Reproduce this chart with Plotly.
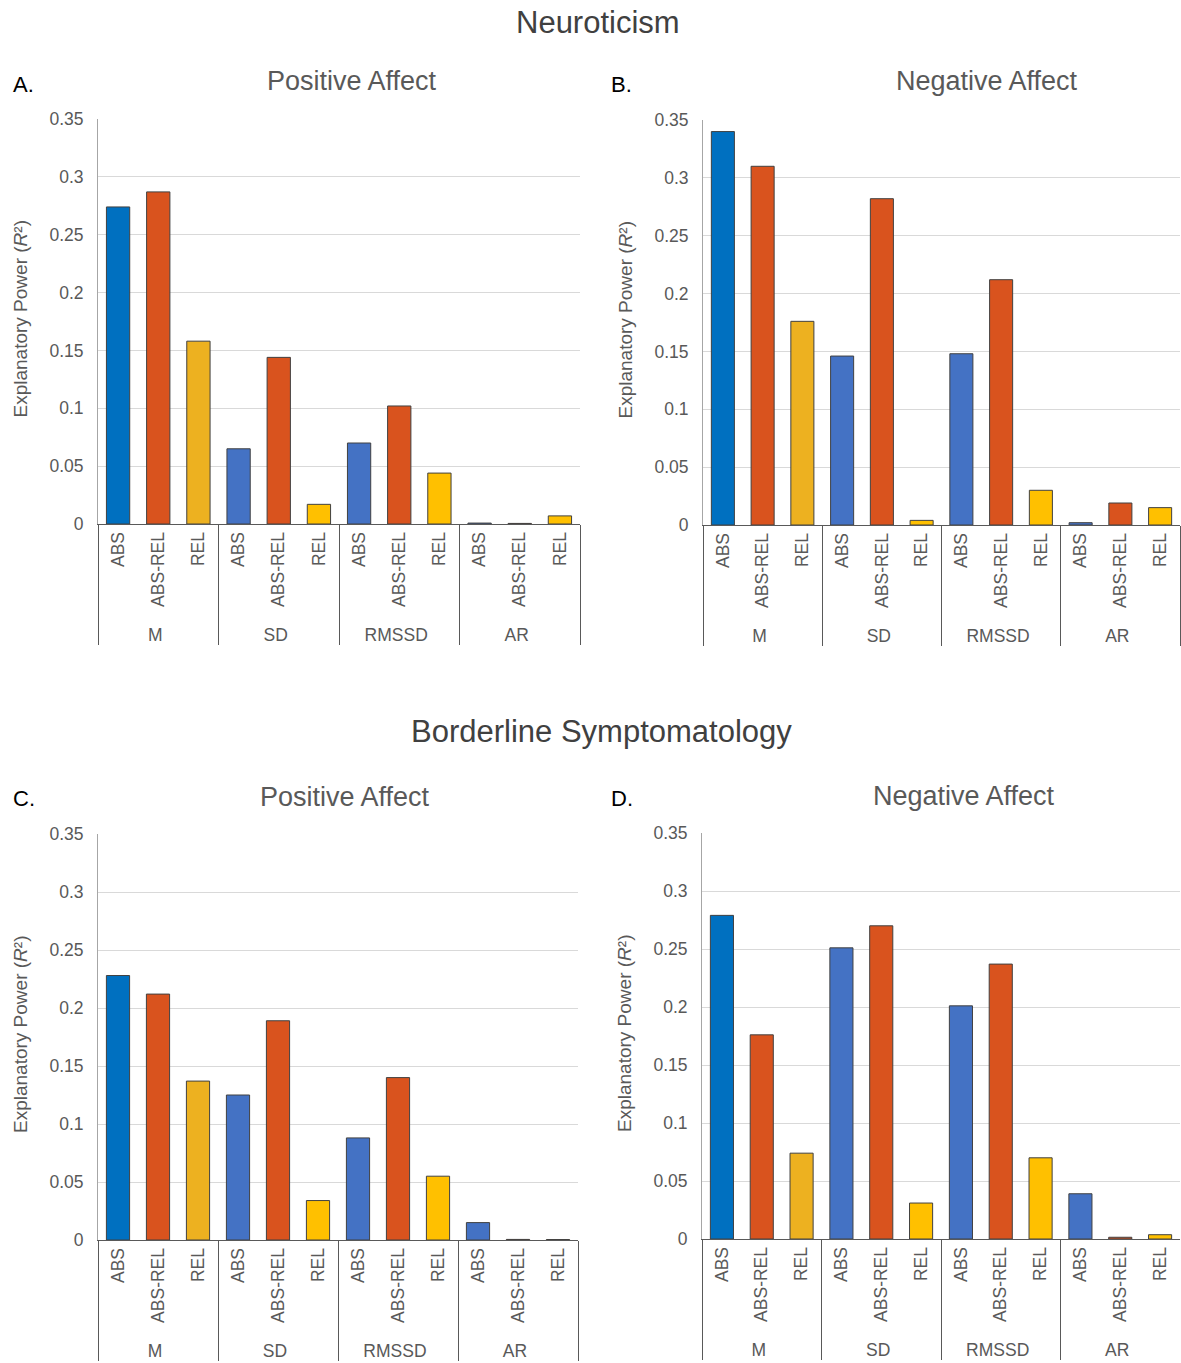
import plotly.graph_objects as go

# Summary statistics (groups) and how each is expressed (measures)
groups = ["M", "SD", "RMSSD", "AR"]
measures = ["ABS", "ABS-REL", "REL"]

# Explanatory power (R²) per statistic/measure, in group-major order
neuroticism_pa = [0.274, 0.287, 0.158, 0.065, 0.144, 0.017, 0.070, 0.102, 0.044, 0.0008, 0.0005, 0.007]
neuroticism_na = [0.340, 0.310, 0.176, 0.146, 0.282, 0.004, 0.148, 0.212, 0.030, 0.002, 0.019, 0.015]
borderline_pa = [0.228, 0.212, 0.137, 0.125, 0.189, 0.034, 0.088, 0.140, 0.055, 0.015, 0.0005, 0.0004]
borderline_na = [0.279, 0.176, 0.074, 0.251, 0.270, 0.031, 0.201, 0.237, 0.070, 0.039, 0.0015, 0.0037]

panel_titles = ["Positive Affect", "Negative Affect", "Positive Affect", "Negative Affect"]
panel_letters = ["A.", "B.", "C.", "D."]

# Fill colours: the mean gets its own palette, the variability statistics share another
mean_colors = {"ABS": "#0070C0", "ABS-REL": "#D9531E", "REL": "#EDB120"}
other_colors = {"ABS": "#4472C4", "ABS-REL": "#D9531E", "REL": "#FFC000"}

W, H = 1181, 1363
FONT = "Liberation Sans, Arial, sans-serif"
GREY = "#595959"

x_outer = [g for g in groups for _ in measures]
x_inner = [m for _ in groups for m in measures]
bar_colors = [(mean_colors if g == "M" else other_colors)[m] for g, m in zip(x_outer, x_inner)]

# Plot-area boxes in pixels: (left, right, top, bottom)
boxes = [
    (98, 580, 119, 524),
    (703, 1180, 120, 525),
    (98, 578, 834, 1240),
    (702, 1180, 833, 1239),
]


def px_x(v):
    return v / W


def px_y(v):
    return 1 - v / H


fig = go.Figure()
series = [neuroticism_pa, neuroticism_na, borderline_pa, borderline_na]
annotations = []

for i, (vals, box) in enumerate(zip(series, boxes)):
    n = "" if i == 0 else str(i + 1)
    left, right, top, bottom = box
    fig.add_trace(go.Bar(
        x=[x_outer, x_inner],
        y=vals,
        marker=dict(color=bar_colors, line=dict(color="#404040", width=1)),
        xaxis="x" + n,
        yaxis="y" + n,
        showlegend=False,
        hoverinfo="y",
    ))
    fig.layout["xaxis" + n] = dict(
        type="multicategory",
        domain=[px_x(left), px_x(right)],
        anchor="y" + n,
        automargin=False,
        tickangle=-90,
        tickfont=dict(family=FONT, size=17.5, color=GREY),
        showline=True,
        linecolor=GREY,
        linewidth=1,
        showdividers=True,
        dividercolor=GREY,
        dividerwidth=1,
        showgrid=False,
        ticks="",
    )
    fig.layout["yaxis" + n] = dict(
        domain=[px_y(bottom), px_y(top)],
        anchor="x" + n,
        automargin=False,
        range=[0, 0.35],
        dtick=0.05,
        tick0=0,
        showgrid=True,
        gridcolor="#D9D9D9",
        gridwidth=1,
        showline=True,
        linecolor="#A6A6A6",
        linewidth=1,
        zeroline=False,
        ticks="",
        ticklabelstandoff=10,
        tickfont=dict(family=FONT, size=17.5, color=GREY),
    )
    # y-axis title, to the left of each panel's tick labels
    annotations.append(dict(
        text="Explanatory Power (<i>R</i>²)",
        x=px_x(left - 78), y=px_y((top + bottom) / 2 - 2),
        xref="paper", yref="paper", textangle=-90,
        showarrow=False, xanchor="center", yanchor="middle",
        font=dict(family=FONT, size=19, color=GREY),
    ))
    # panel heading and letter
    title_cx = [352, 987, 345, 964][i]
    title_cy = [81, 81, 797, 796][i]
    annotations.append(dict(
        text=panel_titles[i], x=px_x(title_cx), y=px_y(title_cy),
        xref="paper", yref="paper", showarrow=False,
        xanchor="center", yanchor="middle",
        font=dict(family=FONT, size=27, color=GREY),
    ))
    letter_x = [11, 609, 11, 609][i]
    letter_y = [85, 85, 798, 798][i]
    annotations.append(dict(
        text=panel_letters[i], x=px_x(letter_x), y=px_y(letter_y),
        xref="paper", yref="paper", showarrow=False,
        xanchor="left", yanchor="middle",
        font=dict(family=FONT, size=22, color="#000000"),
    ))

# Section headings
annotations.append(dict(
    text="Neuroticism", x=px_x(598), y=px_y(23),
    xref="paper", yref="paper", showarrow=False,
    xanchor="center", yanchor="middle",
    font=dict(family=FONT, size=31, color="#404040"),
))
annotations.append(dict(
    text="Borderline Symptomatology", x=px_x(601), y=px_y(731),
    xref="paper", yref="paper", showarrow=False,
    xanchor="center", yanchor="middle",
    font=dict(family=FONT, size=31, color="#404040"),
))

fig.update_layout(
    width=W, height=H,
    margin=dict(l=0, r=0, t=0, b=0, autoexpand=False),
    paper_bgcolor="white",
    plot_bgcolor="white",
    bargap=0.42,
    annotations=annotations,
    font=dict(family=FONT, color=GREY),
)

fig.write_html("out.html")
